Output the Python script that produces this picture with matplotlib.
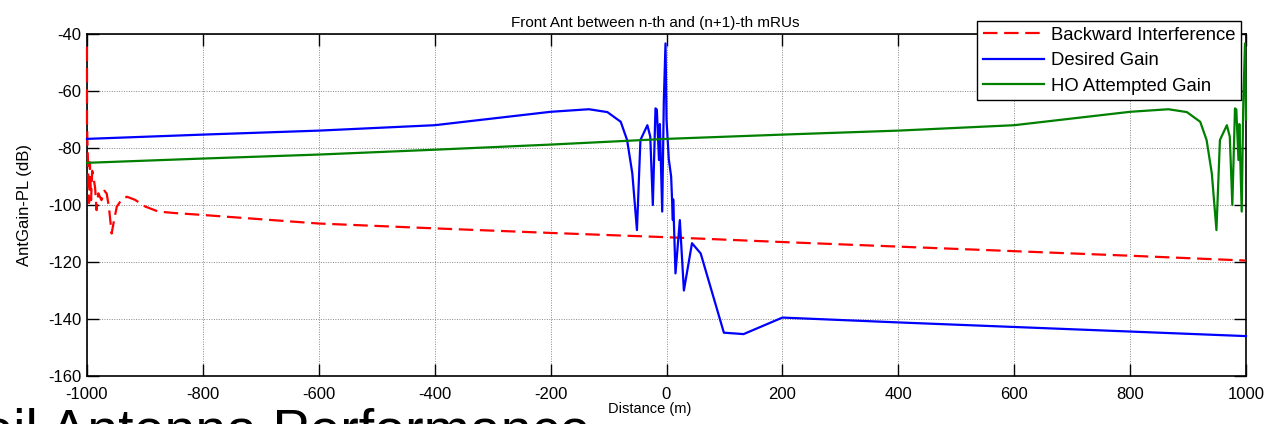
import matplotlib
matplotlib.use("Agg")
import matplotlib.pyplot as plt

# ---------------- data ----------------
red_x = [-1000, -1000, -999.5, -998.5, -997.5, -996.5, -995, -993, -991, -989, -986, -983.5,
         -980.5, -975, -970, -966, -962, -957.5, -953, -948.6, -940, -931, -917, -900,
         -877, -850, -800, -600, -400, -200, 0, 200, 400, 600, 800, 1000]
red_y = [-44.5, -71, -76, -83.5, -92, -99.3, -85, -98.3, -88, -90, -94, -101.8,
         -95.9, -98.3, -95, -96, -101, -110, -105, -100.6, -98, -97.1, -98.2, -100.5,
         -102.3, -102.8, -103.5, -106.5, -108.2, -109.8, -111.3, -113.0, -114.6, -116.2, -117.8, -119.5]

blue_x = [-1000, -800, -600, -400, -200, -134, -102, -79, -68, -59, -51, -45, -33, -28, -23.6,
          -19, -16.7, -13, -11.5, -7.4, -4.6, -1.7, 0, 4, 8, 11, 11.5, 15.5, 23, 30, 44, 59,
          99, 133, 200, 400, 600, 800, 1000]
blue_y = [-76.8, -75.3, -73.9, -72.0, -67.3, -66.4, -67.4, -70.8, -77.2, -88.9, -108.8, -77.2,
          -72.0, -76.0, -100.0, -66.1, -66.5, -84.2, -71.6, -102.3, -63.2, -43.3, -70.0, -84.0,
          -90.0, -105.3, -98.0, -124.0, -105.3, -130.0, -113.4, -117.0, -144.8, -145.3, -139.5,
          -141.2, -142.8, -144.4, -146.0]

green_x = [-1000, -800, -600, -400, -200, 0, 200, 400, 600, 800, 866, 898, 921, 932, 941, 949,
           955, 967, 972, 976.4, 981, 983.3, 987, 988.5, 992.6, 995.4, 998.3, 1000]
green_y = [-85.2, -83.7, -82.3, -80.6, -78.8, -76.8, -75.3, -73.9, -72.0, -67.3, -66.4, -67.4,
           -70.8, -77.2, -88.9, -108.8, -77.2, -72.0, -76.0, -100.0, -66.1, -66.5, -84.2,
           -71.6, -102.3, -63.2, -43.3, -70.0]

labels = ["Backward Interference", "Desired Gain", "HO Attempted Gain"]
x_ticks = [-1000, -800, -600, -400, -200, 0, 200, 400, 600, 800, 1000]
y_ticks = [-160, -140, -120, -100, -80, -60, -40]

# ---------------- figure ----------------
plt.rcParams['font.family'] = ['Liberation Sans', 'DejaVu Sans']
plt.rcParams['axes.unicode_minus'] = False
fig = plt.figure(figsize=(12.68, 4.24), dpi=100)
ax = fig.add_axes([87 / 1268, 1 - 376 / 424, (1246 - 87) / 1268, (376 - 34) / 424])

ax.plot(red_x, red_y, color='#ff0000', lw=1.6, ls=(0, (6.5, 3)), label=labels[0],
        zorder=3, clip_on=False)
ax.plot(blue_x, blue_y, color='#0000ff', lw=1.6, label=labels[1], zorder=3, clip_on=False)
ax.plot(green_x, green_y, color='#008000', lw=1.6, label=labels[2], zorder=3, clip_on=False)

ax.set_xlim(-1000, 1000)
ax.set_ylim(-160, -40)
ax.set_xticks(x_ticks)
ax.set_yticks(y_ticks)
ax.grid(True, color='#888888', ls=(0, (1, 1.5)), lw=0.7)
ax.tick_params(direction='in', top=True, right=True, length=8.5, width=1, labelsize=12)
ax.tick_params(axis='x', pad=8)
ax.tick_params(axis='y', pad=4)
for s in ax.spines.values():
    s.set_linewidth(1.2)

ax.set_title("Front Ant between n-th and (n+1)-th mRUs", fontsize=11, pad=5, x=0.49)
ax.set_xlabel("Distance (m)", fontsize=10.5)
ax.xaxis.set_label_coords((650 - 87) / 1159, -26 / 342)
ax.set_ylabel("AntGain-PL (dB)", fontsize=12)
ax.yaxis.set_label_coords(-55 / 1159, 0.5)

leg = ax.legend(loc='upper right', bbox_to_anchor=(0.9957, 1.038), fontsize=13.3,
                fancybox=False, framealpha=1, edgecolor='black', handlelength=3.3,
                handletextpad=0.4, labelspacing=0.46, borderpad=0.3, borderaxespad=0)
leg.get_frame().set_linewidth(1.0)
leg.set_zorder(5)

fig.text(590 / 1268, 1 - 448 / 424, "Coil Antenna Performance", fontsize=40,
         ha='right', va='baseline')

fig.savefig("out.png", dpi=100)
